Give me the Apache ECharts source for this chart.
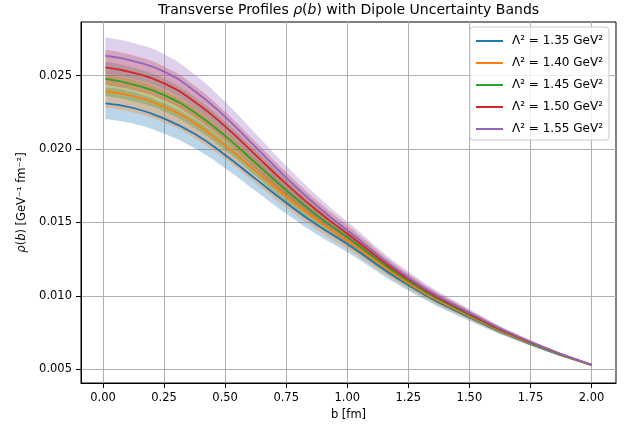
<!DOCTYPE html>
<html><head><meta charset="utf-8">
<script src="https://cdn.jsdelivr.net/npm/echarts@6/dist/echarts.min.js"></script>
<style>html,body{margin:0;padding:0;background:#fff}#c{width:635px;height:430px}</style>
</head><body><div id="c"></div>
<script>
// b values (fm)
const bVals = [0.01, 0.125, 0.25, 0.375, 0.5, 0.625, 0.75, 0.875, 1.0, 1.25, 1.5, 1.75, 2.0];
const seriesNames = ['Λ² = 1.35 GeV²', 'Λ² = 1.40 GeV²', 'Λ² = 1.45 GeV²', 'Λ² = 1.50 GeV²', 'Λ² = 1.55 GeV²'];
// central curves rho(b) [GeV^-1 fm^-2]
const rho135 = [0.02312, 0.02280, 0.02208, 0.02104, 0.01960, 0.01797, 0.01634, 0.01484, 0.01354, 0.01074, 0.00854, 0.00672, 0.00528];
const rho140 = [0.02394, 0.02360, 0.02288, 0.02177, 0.02025, 0.01851, 0.01677, 0.01517, 0.01377, 0.01087, 0.00862, 0.00676, 0.00529];
const rho145 = [0.02478, 0.02440, 0.02368, 0.02250, 0.02090, 0.01905, 0.01720, 0.01550, 0.01400, 0.01100, 0.00870, 0.00680, 0.00530];
const rho150 = [0.02557, 0.02520, 0.02448, 0.02323, 0.02155, 0.01959, 0.01763, 0.01583, 0.01423, 0.01113, 0.00878, 0.00684, 0.00531];
const rho155 = [0.02636, 0.02600, 0.02528, 0.02396, 0.02220, 0.02013, 0.01806, 0.01616, 0.01446, 0.01126, 0.00886, 0.00688, 0.00532];
// relative half-width of the uncertainty bands at each b
const bandRel = [0.047, 0.047, 0.047, 0.047, 0.046, 0.0455, 0.045, 0.0435, 0.042, 0.035, 0.028, 0.017, 0.003];
// tick labels
const xTicks = [0, 0.25, 0.5, 0.75, 1.0, 1.25, 1.5, 1.75, 2.0];
const yTicks = [0.005, 0.010, 0.015, 0.020, 0.025];

const colors = ['#1f77b4', '#ff7f0e', '#2ca02c', '#d62728', '#9467bd'];
const centers = [rho135, rho140, rho145, rho150, rho155];
const FONT = 'DejaVu Sans';
const FS = 11.5;

const series = [];
for (let i = 0; i < 5; i++) {
  const v = centers[i];
  const lo = v.map((y, k) => y * (1 - bandRel[k]));
  const hi = v.map((y, k) => y * (1 + bandRel[k]));
  // data stored as [y, x] so that stacking happens on the y dimension
  series.push({
    type: 'line', stack: 'band' + i, smooth: true, symbol: 'none', silent: true,
    encode: { x: 1, y: 0 },
    data: bVals.map((x, k) => [lo[k], x]),
    lineStyle: { opacity: 0 }, z: 2 + i
  });
  series.push({
    type: 'line', stack: 'band' + i, smooth: true, symbol: 'none', silent: true,
    encode: { x: 1, y: 0 },
    data: bVals.map((x, k) => [hi[k] - lo[k], x]),
    lineStyle: { opacity: 0 },
    areaStyle: { color: colors[i], opacity: 0.3 }, z: 2 + i
  });
}
for (let i = 0; i < 5; i++) {
  const v = centers[i];
  series.push({
    name: seriesNames[i], type: 'line', smooth: true, symbol: 'none',
    data: bVals.map((x, k) => [x, v[k]]),
    lineStyle: { color: colors[i], width: 1.8 }, itemStyle: { color: colors[i] },
    z: 10 + i
  });
}

const chart = echarts.init(document.getElementById('c'), null, { renderer: 'canvas' });
chart.setOption({
  animation: false,
  backgroundColor: '#fff',
  grid: { left: 81, right: 19, top: 22, bottom: 47, show: true, borderColor: '#000', borderWidth: 1, backgroundColor: 'transparent' },
  graphic: [{
    type: 'text', x: 348.5, y: 2, z: 100,
    style: {
      text: '{n|Transverse Profiles }{i|ρ}{n|(}{i|b}{n|) with Dipole Uncertainty Bands}',
      align: 'center', verticalAlign: 'top',
      rich: {
        n: { fontFamily: FONT, fontSize: 14, fill: '#000', lineHeight: 17 },
        i: { fontFamily: FONT, fontSize: 14, fontStyle: 'italic', fill: '#000', lineHeight: 17 }
      }
    }
  }],
  legend: {
    data: seriesNames, orient: 'vertical', left: 470, top: 27, z: 30,
    padding: [8, 6, 5, 5], itemGap: 10, itemWidth: 27, itemHeight: 14,
    itemStyle: { opacity: 0 },
    backgroundColor: 'rgba(255,255,255,0.8)', borderColor: '#cccccc', borderWidth: 1, borderRadius: 3,
    textStyle: { fontFamily: FONT, fontSize: 12, color: '#000', padding: [0, 0, 0, 4] }
  },
  xAxis: {
    type: 'value', min: -0.09, max: 2.1,
    name: 'b [fm]', nameLocation: 'middle', nameGap: 25,
    nameTextStyle: { fontFamily: FONT, fontSize: FS, color: '#000' },
    axisLine: { show: true, onZero: false, lineStyle: { color: '#000', width: 1 } },
    axisTick: { show: true, customValues: xTicks, length: 5, lineStyle: { color: '#000', width: 1 } },
    axisLabel: { customValues: xTicks, formatter: v => v.toFixed(2), margin: 9, color: '#000', fontFamily: FONT, fontSize: FS },
    splitLine: { show: true, lineStyle: { color: '#b0b0b0', width: 1 } }
  },
  yAxis: {
    type: 'value', min: 0.004067, max: 0.028658,
    name: '{i|ρ}({i|b}) [GeV⁻¹ fm⁻²]', nameLocation: 'middle', nameGap: 38, nameRotate: 90,
    nameTextStyle: { fontFamily: FONT, fontSize: FS, color: '#000',
      rich: { i: { fontFamily: FONT, fontSize: FS, fontStyle: 'italic', color: '#000' } } },
    axisLine: { show: true, onZero: false, lineStyle: { color: '#000', width: 1 } },
    axisTick: { show: true, customValues: yTicks, length: 5, lineStyle: { color: '#000', width: 1 } },
    axisLabel: { customValues: yTicks, formatter: v => v.toFixed(3), margin: 9, color: '#000', fontFamily: FONT, fontSize: FS },
    splitLine: { show: true, lineStyle: { color: '#b0b0b0', width: 1 } }
  },
  series: series
});
</script>
</body></html>
